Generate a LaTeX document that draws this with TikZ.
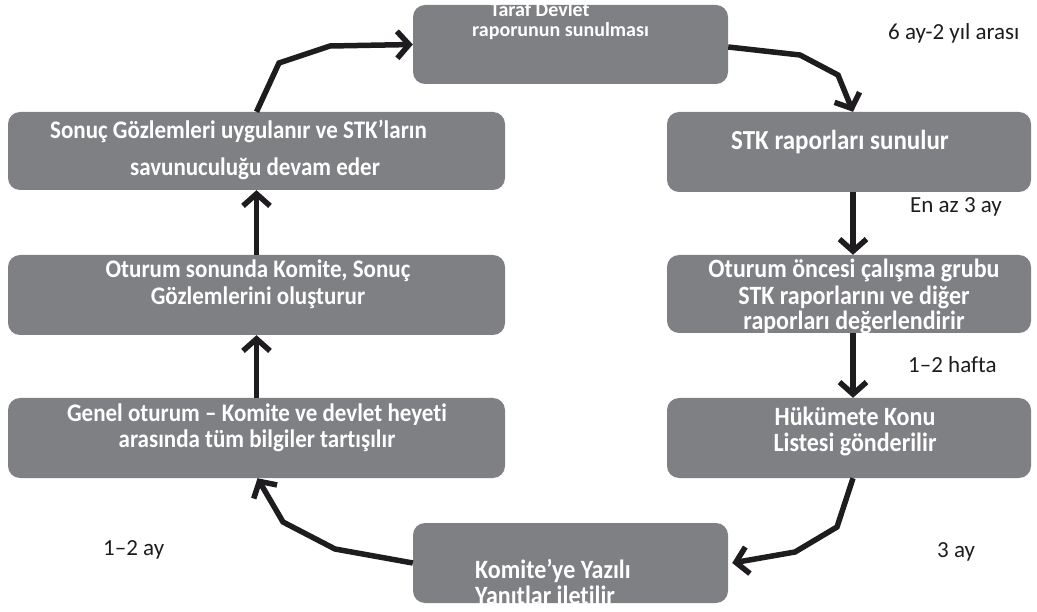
\documentclass[tikz,border=0pt]{standalone}
\usepackage{fontspec}
\setmainfont{Carlito}[RawFeature={-liga}]
\usetikzlibrary{arrows.meta}
\definecolor{boxgray}{RGB}{127,128,132}
\definecolor{ink}{RGB}{30,28,30}
% slightly taller lettering for the stage boxes
\newcommand\vstretch[1]{\scalebox{1}[1.1]{#1}}
\begin{document}
\begin{tikzpicture}[x=1pt,y=-1pt,
  stage/.style={fill=boxgray, rounded corners=12pt, inner sep=0pt, draw=none},
  boxtext/.style={text=white, font=\bfseries\fontsize{23}{27}\selectfont, anchor=base, inner sep=0pt},
  bigtext/.style={boxtext, font=\bfseries\fontsize{24}{27}\selectfont},
  smalltext/.style={text=white, font=\bfseries\fontsize{20}{24}\selectfont, anchor=base west, inner sep=0pt},
  lbl/.style={text=ink, font=\fontsize{23}{27}\selectfont, anchor=base west, inner sep=0pt},
  flow/.style={line width=5.5pt, draw=ink, line join=miter,
    -{Straight Barb[length=12pt,width=27pt]}}
]
\useasboundingbox (0,0) rectangle (1037,612);

% stages of the reporting cycle
\node[stage, minimum width=315pt, minimum height=79pt] (top)   at (570.5,44.5) {};
\node[stage, minimum width=364pt, minimum height=80pt] (stk)   at (849,152) {};
\node[stage, minimum width=364pt, minimum height=78pt] (pre)   at (849,294) {};
\node[stage, minimum width=364pt, minimum height=80pt] (huk)   at (849,438) {};
\node[stage, minimum width=315pt, minimum height=80pt] (bot)   at (570.5,563) {};
\node[stage, minimum width=497pt, minimum height=80pt] (gen)   at (256.5,438) {};
\node[stage, minimum width=497pt, minimum height=80pt] (obs)   at (256.5,295) {};
\node[stage, minimum width=497pt, minimum height=78pt] (sonuc) at (256.5,151) {};

% text of the stages
\begin{scope}
  \clip (top.north west) rectangle (top.south east);
  \node[smalltext] (t-top1) at (490,17) {Taraf Devlet};
  \node[smalltext] (t-top2) at (472,37) {raporunun sunulması};
\end{scope}
\node[bigtext, font=\bfseries\fontsize{25}{27}\selectfont] (t-stk) at (840,150) {\vstretch{STK raporları sunulur}};
\node[bigtext] (t-pre1) at (854,278) {\vstretch{Oturum öncesi çalışma grubu}};
\node[bigtext] (t-pre2) at (854,305) {\vstretch{STK raporlarını ve diğer}};
\node[bigtext] (t-pre3) at (854,330) {\vstretch{raporları değerlendirir}};
\node[bigtext] (t-huk1) at (855,425) {\vstretch{Hükümete Konu}};
\node[bigtext] (t-huk2) at (855,452) {\vstretch{Listesi gönderilir}};
\begin{scope}
  \clip (bot.north west) rectangle (bot.south east);
  \node[bigtext, anchor=base west] (t-bot1) at (475,578) {\vstretch{Komite’ye Yazılı}};
  \node[bigtext, anchor=base west] (t-bot2) at (475,604) {\vstretch{Yanıtlar iletilir}};
\end{scope}
\node[boxtext] (t-gen1) at (257,422) {\vstretch{Genel oturum – Komite ve devlet heyeti}};
\node[boxtext] (t-gen2) at (257,448) {\vstretch{arasında tüm bilgiler tartışılır}};
\node[boxtext] (t-obs1) at (258,278) {\vstretch{Oturum sonunda Komite, Sonuç}};
\node[boxtext] (t-obs2) at (258,305) {\vstretch{Gözlemlerini oluşturur}};
\node[boxtext, anchor=base west] (t-son1) at (50,139) {\vstretch{Sonuç Gözlemleri uygulanır ve STK’ların}};
\node[boxtext] (t-son2) at (255,176) {\vstretch{savunuculuğu devam eder}};

% time spans
\node[lbl] (d1) at (888,40)  {6 ay-2 yıl arası};
\node[lbl] (d2) at (910,213) {En az 3 ay};
\node[lbl] (d3) at (908,373) {1–2 hafta};
\node[lbl] (d4) at (937,557) {3 ay};
\node[lbl] (d5) at (103,555) {1–2 ay};

% flow of the cycle
\draw[flow] ([yshift=-2.5pt]top.east) -- (800,55) -- (838,75) -- ([xshift=4pt]stk.north);
\draw[flow] ([xshift=4pt]stk.south) -- ([xshift=4pt]pre.north);
\draw[flow] ([xshift=4pt]pre.south) -- ([xshift=4pt]huk.north);
\draw[flow] ([xshift=4pt]huk.south) -- (837,527) -- (795,552) -- ([xshift=4pt]bot.east);
\draw[flow] (bot.west) -- (335,549) -- (283,522) -- ([xshift=1pt]gen.south);
\draw[flow] (gen.north) -- (obs.south);
\draw[flow] (obs.north) -- (sonuc.south);
\draw[flow] (sonuc.north) -- (279,63) -- (330,46) -- (top.west);
\end{tikzpicture}
\end{document}
